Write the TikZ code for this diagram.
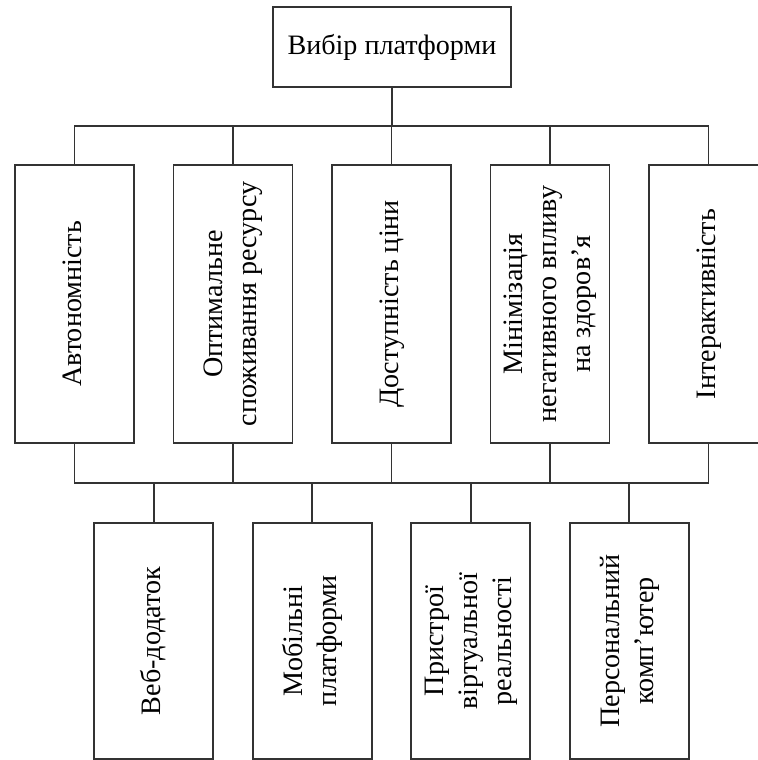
\documentclass[tikz,border=0pt]{standalone}
\usepackage{fontspec}
\setmainfont{Liberation Serif}
\usepackage{graphicx}

\newcommand{\vtext}[1]{\rotatebox{90}{\begin{tabular}{@{}c@{}}#1\end{tabular}}}

\begin{document}
\begin{tikzpicture}[
	box/.style={draw=black!80, line width=1.1pt, fill=white, inner sep=0pt,
		font=\fontsize{16}{19.4}\selectfont},
	topbox/.style={box, minimum width=4.76cm, minimum height=1.6cm},
	critbox/.style={box, minimum width=2.38cm, minimum height=5.56cm},
	platbox/.style={box, minimum width=2.38cm, minimum height=4.72cm},
	link/.style={draw=black!80, line width=1.1pt}
]
	\useasboundingbox (0,0) rectangle (15.14,15.2);
	
	% top
	\node [topbox] (top) at (7.84,14.26) {Вибір платформи};
	
	% criteria
	\node [critbox] (c1) at (1.49,9.12) {\vtext{Автономність}};
	\node [critbox] (c2) at (4.66,9.12) {\vtext{Оптимальне\\споживання ресурсу}};
	\node [critbox] (c3) at (7.83,9.12) {\vtext{Доступність ціни}};
	\node [critbox] (c4) at (11.0,9.12) {\vtext{Мінімізація\\негативного впливу\\на здоров’я}};
	\node [critbox] (c5) at (14.17,9.12) {\vtext{Інтерактивність}};
	
	% platforms
	\node [platbox] (p1) at (3.075,2.38) {\vtext{Веб-додаток}};
	\node [platbox] (p2) at (6.245,2.38) {\vtext{Мобільні\\платформи}};
	\node [platbox] (p3) at (9.415,2.38) {\vtext{Пристрої\\віртуальної\\реальності}};
	\node [platbox] (p4) at (12.585,2.38) {\vtext{Персональний\\комп’ютер}};
	
	% bus levels
	\coordinate (bus1) at (0,12.68);
	\coordinate (bus2) at (0,5.54);
	
	% upper lines
	\draw [link] (top.south) -- (top.south |- bus1);
	\draw [link] (c1.north) |- (c5.north |- bus1) -- (c5.north);
	\foreach \i in {2,3,4}
		\draw [link] (c\i.north) -- (c\i.north |- bus1);
	
	% lower lines
	\draw [link] (c1.south) |- (c5.south |- bus2) -- (c5.south);
	\foreach \i in {2,3,4}
		\draw [link] (c\i.south) -- (c\i.south |- bus2);
	\foreach \j in {1,...,4}
		\draw [link] (p\j.north) -- (p\j.north |- bus2);
\end{tikzpicture}
\end{document}
